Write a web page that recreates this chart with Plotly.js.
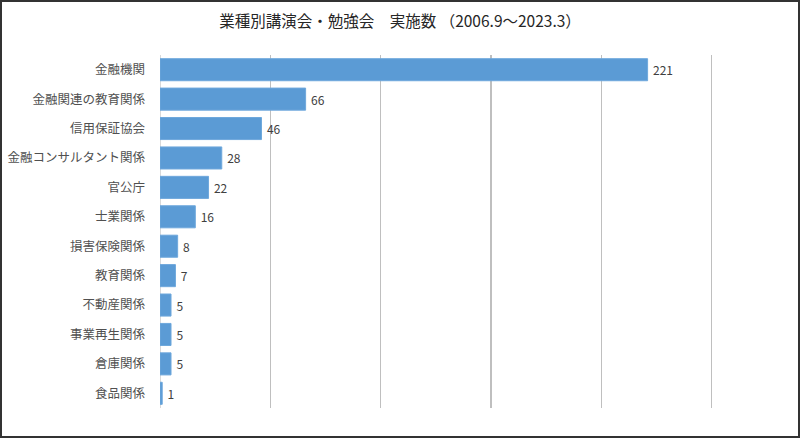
<!DOCTYPE html>
<html><head><meta charset="utf-8">
<script src="https://cdn.plot.ly/plotly-3.0.1.min.js"></script>
<style>html,body{margin:0;padding:0;background:#fff;}#c{width:800px;height:438px;box-sizing:border-box;border:2px solid #333;}</style>
</head><body><div id="c"></div>
<script>
const categories = ["金融機関","金融関連の教育関係","信用保証協会","金融コンサルタント関係","官公庁","士業関係","損害保険関係","教育関係","不動産関係","事業再生関係","倉庫関係","食品関係"];
const counts = [221,66,46,28,22,16,8,7,5,5,5,1];
const titleText = "業種別講演会・勉強会　実施数 （2006.9～2023.3）";
const font = "'Noto Sans CJK JP', 'Noto Sans', sans-serif";
Plotly.newPlot('c', [{
  type:'bar', orientation:'h', y:categories, x:counts,
  text:counts.map(v => '\u2009' + v), textposition:'outside', cliponaxis:false,
  textfont:{size:12,color:'#404040',family:font},
  marker:{color:'#5b9bd5', line:{color:'#6fa8dc', width:1}},
  hoverinfo:'none'
}], {
  width:796, height:434,
  margin:{l:158,r:82,t:53,b:28},
  paper_bgcolor:'#fff', plot_bgcolor:'#fff',
  title:{text:titleText, x:0.5, xanchor:'center', y:0.955, yanchor:'middle', font:{size:15.5,color:'#262626',family:font}},
  bargap:0.25,
  showlegend:false,
  xaxis:{range:[0,252], tickvals:[50,100,150,200,250], showgrid:true, gridcolor:'#bfbfbf', gridwidth:1.5, zeroline:true, zerolinecolor:'#d9d9d9', zerolinewidth:1, showticklabels:false, ticks:'', fixedrange:true},
  yaxis:{autorange:'reversed', tickfont:{size:12.5,color:'#505050',family:font}, ticks:'', ticklabelstandoff:14, showgrid:false, showline:false, automargin:false}
}, {displayModeBar:false, staticPlot:true});
</script></body></html>
